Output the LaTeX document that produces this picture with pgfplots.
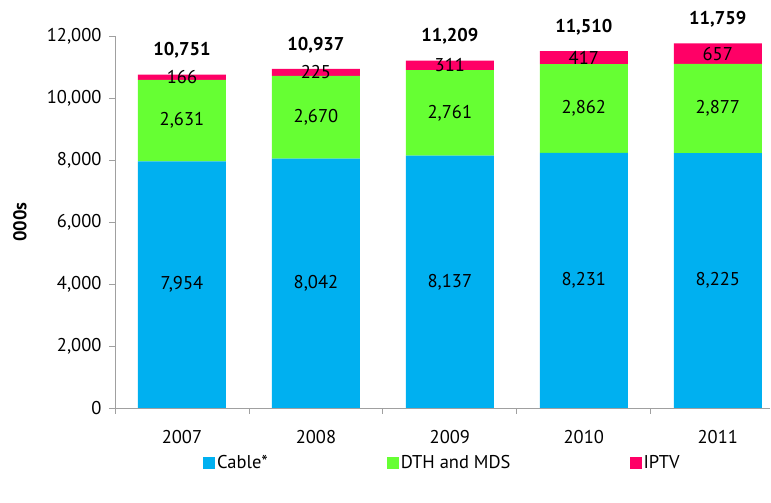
\documentclass[border=0pt]{standalone}
\usepackage{pgfplots}
\pgfplotsset{compat=1.18}
\usepackage{fontspec}
\setmainfont{PT Sans}
\definecolor{cableblue}{HTML}{00B0F0}
\definecolor{dthgreen}{HTML}{66FF33}
\definecolor{iptvpink}{HTML}{FF0066}
\definecolor{axisgray}{HTML}{A0A0A0}
\tikzset{lbl/.style={font=\fontsize{18.5}{21}\selectfont, anchor=center, inner sep=0pt},
         tot/.style={font=\fontsize{18.5}{21}\selectfont\bfseries, anchor=center, inner sep=0pt, yshift=24pt}}
\begin{document}
\begin{tikzpicture}
\begin{axis}[
  at={(115pt,95pt)}, anchor=south west,
  scale only axis, width=655pt, height=372pt,
  ybar stacked, bar width=88pt,
  xmin=-0.5, xmax=4.39, ymin=0, ymax=12000,
  clip=false,
  axis lines*=left,
  axis line style={axisgray, line width=0.8pt},
  xtick={-0.5,0.5,1.5,2.5,3.5},
  xticklabels={},
  extra x ticks={0,1,2,3,4},
  extra x tick labels={2007,2008,2009,2010,2011},
  extra x tick style={major tick length=0pt},
  x tick label style={yshift=-19pt},
  ytick={0,2000,4000,6000,8000,10000,12000},
  tick style={axisgray, line width=0.8pt},
  tick align=outside, major tick length=6pt,
  y tick label style={xshift=-4pt},
  /pgf/number format/assume math mode=true,
  /pgf/number format/1000 sep={,},
  scaled y ticks=false,
  tick label style={font=\fontsize{18.5}{21}\selectfont},
  ylabel={\textbf{000s}},
  ylabel style={at={(axis description cs:-0.145,0.5)}, anchor=center, font=\fontsize{18.5}{21}\selectfont},
  legend style={at={(axis description cs:0.50,-0.148)}, anchor=center, draw=none, legend columns=3,
    font=\fontsize{18.5}{21}\selectfont,
    /tikz/every even column/.append style={column sep=117pt}},
  legend cell align=left,
]
\addplot[fill=cableblue, draw=none, legend image code/.code={\fill[cableblue] (0pt,-6pt) rectangle (12pt,6pt);}]
  coordinates {(0,7954) (1,8042) (2,8137) (3,8231) (4,8225)};
\addplot[fill=dthgreen, draw=none, legend image code/.code={\fill[dthgreen] (0pt,-6pt) rectangle (12pt,6pt);}]
  coordinates {(0,2631) (1,2670) (2,2761) (3,2862) (4,2877)};
\addplot[fill=iptvpink, draw=none, legend image code/.code={\fill[iptvpink] (0pt,-6pt) rectangle (12pt,6pt);}]
  coordinates {(0,166) (1,225) (2,311) (3,417) (4,657)};
\legend{Cable*, DTH and MDS, IPTV}
\coordinate (a0) at (axis cs:0,3977);
\coordinate (a1) at (axis cs:1,4021);
\coordinate (a2) at (axis cs:2,4068);
\coordinate (a3) at (axis cs:3,4115);
\coordinate (a4) at (axis cs:4,4112);
\coordinate (b0) at (axis cs:0,9270);
\coordinate (b1) at (axis cs:1,9377);
\coordinate (b2) at (axis cs:2,9517);
\coordinate (b3) at (axis cs:3,9662);
\coordinate (b4) at (axis cs:4,9663);
\coordinate (c0) at (axis cs:0,10668);
\coordinate (c1) at (axis cs:1,10825);
\coordinate (c2) at (axis cs:2,11053);
\coordinate (c3) at (axis cs:3,11302);
\coordinate (c4) at (axis cs:4,11431);
\coordinate (t0) at (axis cs:0,10751);
\coordinate (t1) at (axis cs:1,10937);
\coordinate (t2) at (axis cs:2,11209);
\coordinate (t3) at (axis cs:3,11510);
\coordinate (t4) at (axis cs:4,11759);
\end{axis}
\node[lbl] at (a0) {7,954};
\node[lbl] at (a1) {8,042};
\node[lbl] at (a2) {8,137};
\node[lbl] at (a3) {8,231};
\node[lbl] at (a4) {8,225};
\node[lbl] at (b0) {2,631};
\node[lbl] at (b1) {2,670};
\node[lbl] at (b2) {2,761};
\node[lbl] at (b3) {2,862};
\node[lbl] at (b4) {2,877};
\node[lbl] at (c0) {166};
\node[lbl] at (c1) {225};
\node[lbl] at (c2) {311};
\node[lbl] at (c3) {417};
\node[lbl] at (c4) {657};
\node[tot] at (t0) {10,751};
\node[tot] at (t1) {10,937};
\node[tot] at (t2) {11,209};
\node[tot] at (t3) {11,510};
\node[tot] at (t4) {11,759};
\path[use as bounding box] (0,0) rectangle (771pt,503pt);
\end{tikzpicture}
\end{document}
